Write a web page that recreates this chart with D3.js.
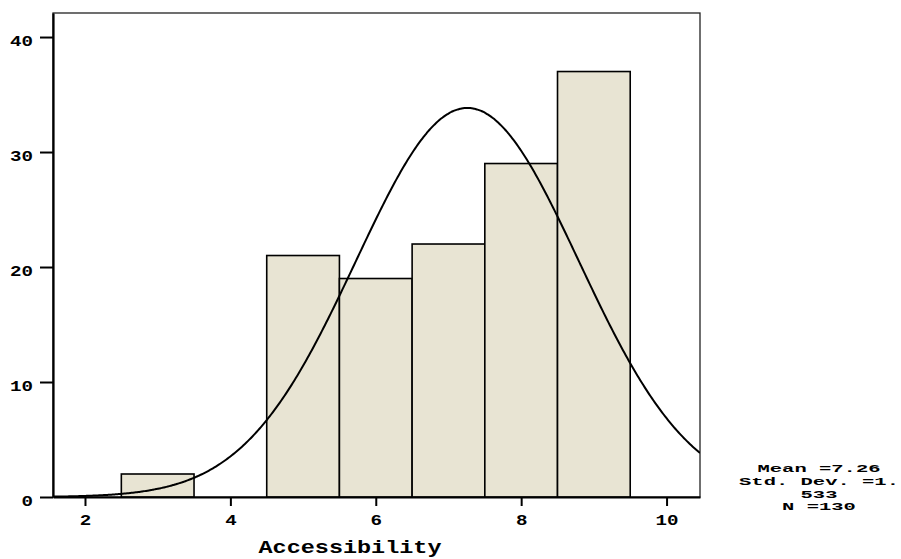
<!DOCTYPE html>
<html>
<head>
<meta charset="utf-8">
<script src="https://cdn.jsdelivr.net/npm/d3@7.9.0/dist/d3.min.js"></script>
<style>
  body { margin: 0; background: #fff; }
  svg text { font-family: "Liberation Mono", "DejaVu Sans Mono", monospace; font-weight: bold; fill: #000; }
</style>
</head>
<body>
<svg id="chart" width="901" height="559"></svg>
<script>
// histogram bins (lower edge, upper edge, count)
const binStart = [2.5, 4.5, 5.5, 6.5, 7.5, 8.5];
const binEnd   = [3.5, 5.5, 6.5, 7.5, 8.5, 9.5];
const counts   = [2, 21, 19, 22, 29, 37];
const xTicks = [2, 4, 6, 8, 10];
const yTicks = [0, 10, 20, 30, 40];
// stats shown in the legend
const mean = 7.26, sd = 1.533, n = 130;
const statLines = ["Mean =7.26", "Std. Dev. =1.", "533", "N =130"];

const svg = d3.select("#chart");
const margin = {left: 53, right: 201, top: 13, bottom: 62};
const W = 901, H = 559;

const x = d3.scaleLinear().domain([1.56, 10.46]).range([margin.left, W - margin.right]);
const y = d3.scaleLinear().domain([0, 42.09]).range([H - margin.bottom, margin.top]);

svg.append("clipPath").attr("id", "plotclip")
  .append("rect")
  .attr("x", margin.left).attr("y", margin.top)
  .attr("width", W - margin.left - margin.right)
  .attr("height", H - margin.top - margin.bottom);

// frame (top/right)
svg.append("rect")
  .attr("x", margin.left).attr("y", margin.top)
  .attr("width", W - margin.left - margin.right)
  .attr("height", H - margin.top - margin.bottom)
  .attr("fill", "none").attr("stroke", "#222").attr("stroke-width", 1.3);

// bars
const bins = counts.map((c, i) => ({x0: binStart[i], x1: binEnd[i], c}));
svg.selectAll(".bar")
  .data(bins)
  .join("rect")
  .attr("class", "bar")
  .attr("x", d => x(d.x0))
  .attr("y", d => y(d.c))
  .attr("width", d => x(d.x1) - x(d.x0))
  .attr("height", d => y(0) - y(d.c))
  .attr("fill", "#e8e4d3")
  .attr("stroke", "#000")
  .attr("stroke-width", 1.6);

// normal curve from the mean / std dev / N shown
const xs = d3.range(1.56, 10.47, 0.02);
const dens = v => n * 1 / (sd * Math.sqrt(2 * Math.PI)) * Math.exp(-0.5 * ((v - mean) / sd) ** 2);
svg.append("path")
  .datum(xs)
  .attr("clip-path", "url(#plotclip)")
  .attr("fill", "none")
  .attr("stroke", "#000")
  .attr("stroke-width", 2)
  .attr("d", d3.line().x(d => x(d)).y(d => y(dens(d))).curve(d3.curveBasis));

// y axis
const yAxis = svg.append("g")
  .attr("transform", `translate(${margin.left},0)`)
  .call(d3.axisLeft(y).tickValues(yTicks).tickSize(13).tickPadding(7).tickSizeOuter(0));
yAxis.select(".domain").attr("stroke", "#000").attr("stroke-width", 2.2);
yAxis.selectAll(".tick line").attr("stroke", "#000").attr("stroke-width", 2);
yAxis.selectAll(".tick text")
  .attr("font-size", 14).attr("dy", "0.62em")
  .attr("textLength", d => String(d).length * 11.5)
  .attr("lengthAdjust", "spacingAndGlyphs");

// x axis
const xAxis = svg.append("g")
  .attr("transform", `translate(0,${H - margin.bottom})`)
  .call(d3.axisBottom(x).tickValues(xTicks).tickSize(9).tickPadding(9).tickSizeOuter(0));
xAxis.select(".domain").attr("stroke", "#000").attr("stroke-width", 2.2);
xAxis.selectAll(".tick line").attr("stroke", "#000").attr("stroke-width", 2);
xAxis.selectAll(".tick text")
  .attr("font-size", 14)
  .attr("textLength", d => String(d).length * 11.5)
  .attr("lengthAdjust", "spacingAndGlyphs");

// axis title
svg.append("text")
  .attr("x", 350).attr("y", 553)
  .attr("text-anchor", "middle")
  .attr("font-size", 19)
  .attr("textLength", 183).attr("lengthAdjust", "spacingAndGlyphs")
  .text("Accessibility");

// stats block
svg.selectAll(".stat")
  .data(statLines)
  .join("text")
  .attr("class", "stat")
  .attr("x", 819)
  .attr("y", (d, i) => 472 + i * 12.8)
  .attr("text-anchor", "middle")
  .attr("font-size", 11.5)
  .attr("textLength", d => d.length * 12.3)
  .attr("lengthAdjust", "spacingAndGlyphs")
  .text(d => d);
</script>
</body>
</html>
